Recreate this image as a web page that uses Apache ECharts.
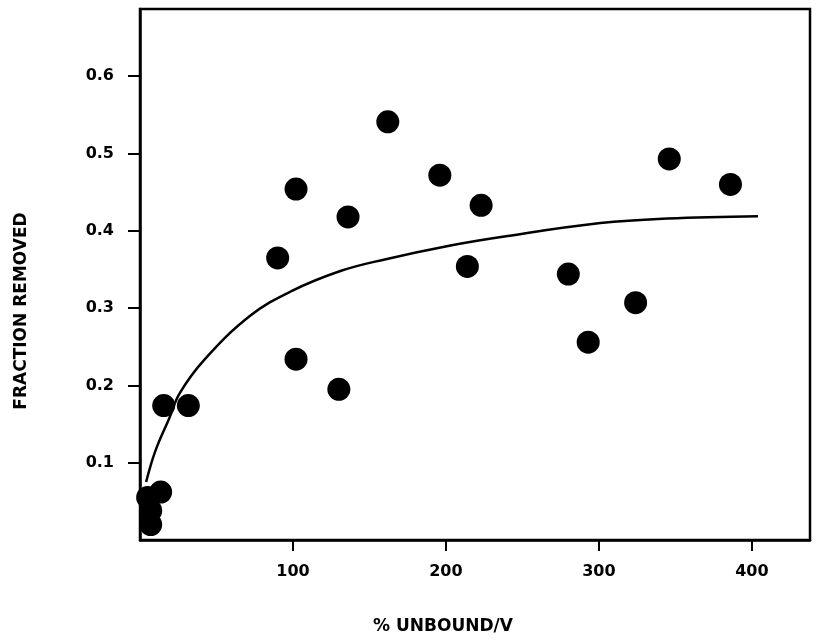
<!DOCTYPE html>
<html>
<head>
<meta charset="utf-8">
<script src="https://cdn.jsdelivr.net/npm/echarts@6/dist/echarts.min.js"></script>
<style>html,body{margin:0;padding:0;background:#fff;}#c{width:821px;height:640px;}</style>
</head>
<body>
<div id="c"></div>
<script>
const xTicks = [100, 200, 300, 400];
const yTicks = [0.1, 0.2, 0.3, 0.4, 0.5, 0.6];
const pointsX = [5, 7, 7, 13.5, 15.5, 31.6, 90, 102, 102, 130, 136, 162, 196, 214, 223, 280, 293, 324, 346, 386];
const pointsY = [0.055, 0.038, 0.02, 0.062, 0.174, 0.174, 0.365, 0.454, 0.234, 0.195, 0.418, 0.541, 0.472, 0.354, 0.433, 0.344, 0.256, 0.307, 0.493, 0.46];
const curveX = [4, 10, 19, 26, 42, 72, 99, 131, 160, 203, 236, 301, 345, 404];
const curveY = [0.075, 0.115, 0.157, 0.19, 0.233, 0.29, 0.322, 0.348, 0.363, 0.381, 0.392, 0.41, 0.416, 0.419];
const xTitle = '% UNBOUND/V';
const yTitle = 'FRACTION REMOVED';

const chart = echarts.init(document.getElementById('c'), null, {renderer: 'canvas'});
const font = '"DejaVu Sans", sans-serif';
chart.setOption({
  animation: false,
  backgroundColor: '#fff',
  grid: {left: 140, right: 11, top: 9, bottom: 100, show: true, borderColor: '#000', borderWidth: 2.5, backgroundColor: 'transparent'},
  xAxis: {
    type: 'value', min: 0, max: 438, interval: 100,
    axisLine: {show: true, lineStyle: {color: '#000', width: 2.5}},
    axisTick: {show: true, inside: false, length: 11, customValues: xTicks, lineStyle: {color: '#000', width: 2}},
    splitLine: {show: false},
    axisLabel: {margin: 24, color: '#000', fontFamily: font, fontWeight: 'bold', fontSize: 16,
      customValues: xTicks,
      formatter: v => String(v)}
  },
  yAxis: {
    type: 'value', min: 0, max: 0.687, interval: 0.1,
    axisLine: {show: true, lineStyle: {color: '#000', width: 2.5}},
    axisTick: {show: true, inside: false, length: 12, customValues: yTicks, lineStyle: {color: '#000', width: 2}},
    splitLine: {show: false},
    axisLabel: {margin: 26, color: '#000', fontFamily: font, fontWeight: 'bold', fontSize: 16,
      customValues: yTicks,
      formatter: v => v.toFixed(1)}
  },
  graphic: [
    {type: 'text', x: 443, y: 627, style: {text: xTitle, fill: '#000', font: 'bold 17px ' + font, textAlign: 'center', textVerticalAlign: 'middle'}},
    {type: 'text', rotation: Math.PI / 2, x: 22, y: 311, style: {text: yTitle, fill: '#000', font: 'bold 17px ' + font, textAlign: 'center', textVerticalAlign: 'middle'}}
  ],
  series: [
    {
      type: 'line', smooth: 0.4, showSymbol: false, symbol: 'none',
      lineStyle: {color: '#000', width: 2.5},
      data: curveX.map((x, i) => [x, curveY[i]]),
      z: 2
    },
    {
      type: 'scatter', symbol: 'circle', symbolSize: 23,
      itemStyle: {color: '#000', opacity: 1},
      data: pointsX.map((x, i) => [x, pointsY[i]]),
      z: 3
    }
  ]
});
</script>
</body>
</html>
